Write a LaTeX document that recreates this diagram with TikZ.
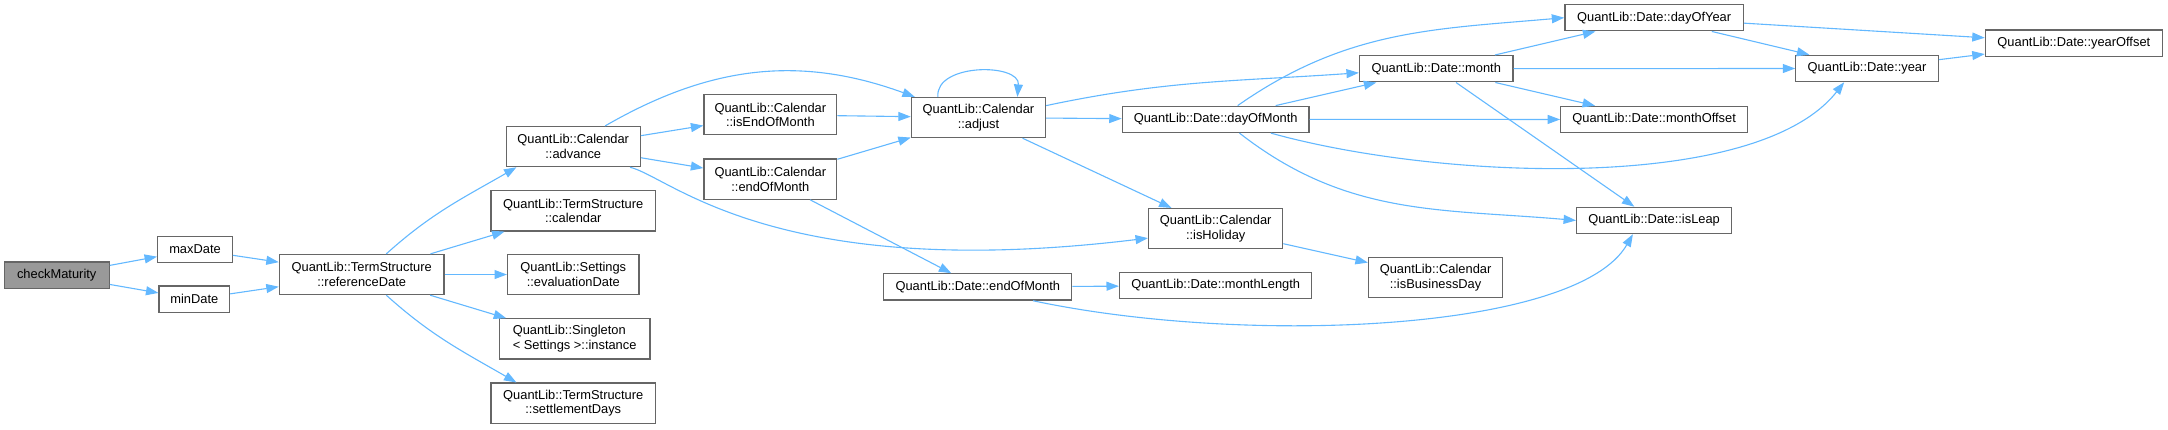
\documentclass[tikz,border=0pt]{standalone}
\usepackage{fontspec}
\setmainfont{Liberation Sans}
\usetikzlibrary{arrows.meta}
\definecolor{callblue}{HTML}{63B8FF}
\definecolor{boxgray}{HTML}{666666}
\definecolor{rootgray}{HTML}{999999}
\tikzset{
  fn/.style={draw=boxgray, line width=0.9pt, fill=white, align=center, inner sep=0pt,
    minimum height=19pt, font=\fontsize{9.3}{10.6}\selectfont},
  fnn/.style={fn, minimum height=29pt},
  root/.style={fn, fill=rootgray},
  call/.style={draw=callblue, line width=0.8pt, -{Triangle[length=9pt,width=6.5pt]}}
}
\begin{document}
\begin{tikzpicture}[x=1pt,y=1pt]
\useasboundingbox (0,0) rectangle (1567.6,-310.2);

\node[root, minimum width=76pt] (chk) at (41,-199) {checkMaturity};
\node[fn, minimum width=54pt] (maxd) at (141,-180.5) {maxDate};
\node[fn, minimum width=51pt] (mind) at (140.5,-216.3) {minDate};
\node[fnn, minimum width=119pt] (refd) at (261.5,-198.5) {QuantLib::TermStructure\\::referenceDate};
\node[fnn, minimum width=97pt] (adv) at (414.5,-106) {QuantLib::Calendar\\::advance};
\node[fnn, minimum width=119pt] (tscal) at (414.5,-152.5) {QuantLib::TermStructure\\::calendar};
\node[fnn, minimum width=95pt] (evald) at (414.5,-198.5) {QuantLib::Settings\\::evaluationDate};
\node[fnn, minimum width=109pt, align=left] (inst) at (415.5,-245) {QuantLib::Singleton\\< Settings >::instance};
\node[fnn, minimum width=119pt] (sdays) at (414.5,-291.5) {QuantLib::TermStructure\\::settlementDays};
\node[fnn, minimum width=96pt] (iseom) at (557,-83) {QuantLib::Calendar\\::isEndOfMonth};
\node[fnn, minimum width=96pt] (caleom) at (557,-129.5) {QuantLib::Calendar\\::endOfMonth};
\node[fnn, minimum width=97pt] (adj) at (707.5,-85) {QuantLib::Calendar\\::adjust};
\node[fn, minimum width=136pt] (deom) at (707,-207.5) {QuantLib::Date::endOfMonth};
\node[fn, minimum width=135pt] (dom) at (879,-86.3) {QuantLib::Date::dayOfMonth};
\node[fnn, minimum width=97pt] (hol) at (879,-165.3) {QuantLib::Calendar\\::isHoliday};
\node[fn, minimum width=139pt] (mlen) at (879,-206.5) {QuantLib::Date::monthLength};
\node[fn, minimum width=129pt] (doy) at (1196,-12.8) {QuantLib::Date::dayOfYear};
\node[fn, minimum width=128pt] (yoff) at (1499.5,-31.2) {QuantLib::Date::yearOffset};
\node[fn, minimum width=111pt] (month) at (1038.5,-49.7) {QuantLib::Date::month};
\node[fn, minimum width=103pt] (year) at (1350,-49.5) {QuantLib::Date::year};
\node[fn, minimum width=135pt] (moff) at (1196,-86.4) {QuantLib::Date::monthOffset};
\node[fn, minimum width=112pt] (leap) at (1196,-159.4) {QuantLib::Date::isLeap};
\node[fnn, minimum width=97pt] (bday) at (1038,-200.8) {QuantLib::Calendar\\::isBusinessDay};

\draw
    (chk) edge[call] (maxd)
    (chk) edge[call] (mind)
    (maxd) edge[call] (refd)
    (mind) edge[call] (refd)
    (refd.40) edge[call, out=42, in=210] (adv.200)
    (refd) edge[call] (tscal)
    (refd) edge[call] (evald)
    (refd) edge[call] (inst)
    (refd.-40) edge[call, out=-42, in=150] (sdays.160)
    (adv.33) edge[call, out=30, in=160] (adj.162)
    (adv) edge[call] (iseom)
    (adv) edge[call] (caleom)
    (iseom) edge[call] (adj)
    (caleom) edge[call] (adj)
    (caleom) edge[call] (deom)
    (adj.153) edge[call, out=95, in=85, looseness=1.1] (adj.28)
    (adj.10) edge[call, out=12, in=184] (month.183)
    (adj) edge[call] (dom)
    (adj) edge[call] (hol)
    (deom) edge[call] (mlen)
    (hol) edge[call] (bday)
    (dom.32) edge[call, out=35, in=185] (doy.west)
    (dom) edge[call] (month)
    (dom) edge[call] (moff)
    (dom.-30) edge[call, out=-38, in=175] (leap.west)
    (month) edge[call] (doy)
    (month) edge[call] (year)
    (month) edge[call] (moff)
    (month) edge[call] (leap)
    (doy) edge[call] (yoff)
    (doy) edge[call] (year)
    (year) edge[call] (yoff);
\draw[call] (adv.-20) .. controls (485,-128) and (560,-205) .. (hol.188);
\draw[call] (deom.-14) .. controls (900,-250) and (1140,-240) .. (leap.213);
\draw[call] (dom.-14) .. controls (1040,-130) and (1270,-140) .. (year.211);
\end{tikzpicture}
\end{document}
